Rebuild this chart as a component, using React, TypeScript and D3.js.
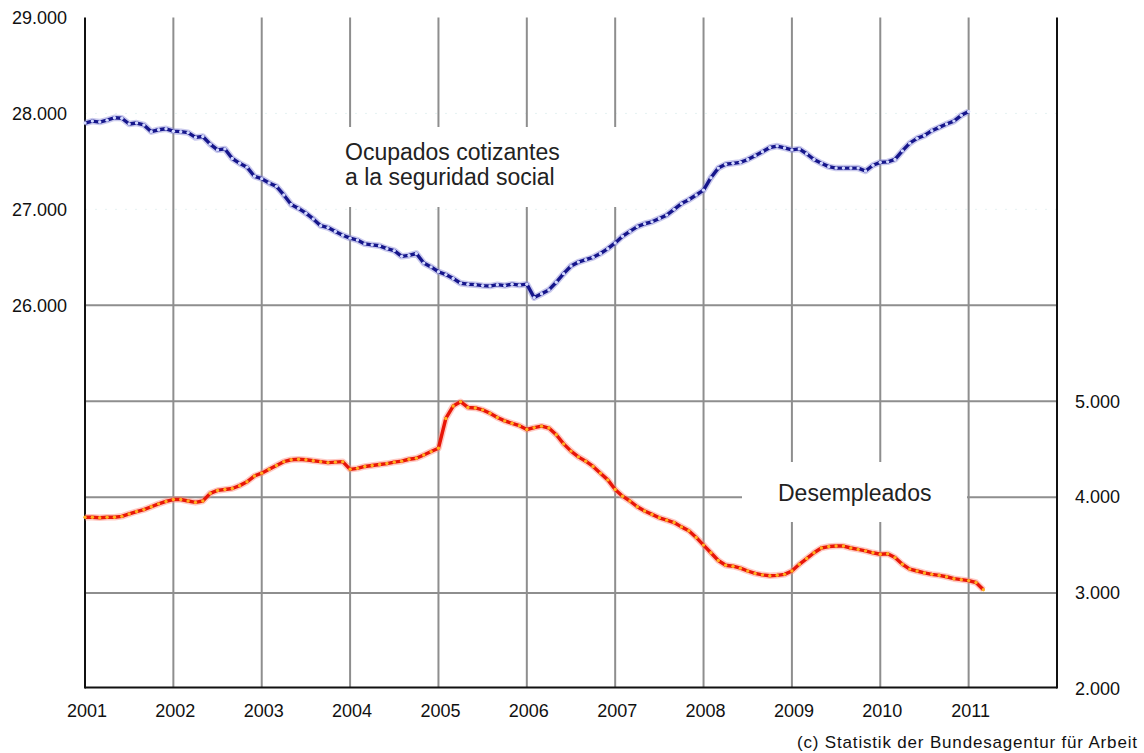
import React from "react";
import * as d3 from "d3";

// Monthly values, Jan 2001 ... (thousands)
const START_YEAR = 2001;
const ocupados: number[] = [
  27900, 27920, 27910, 27930, 27955, 27950, 27890, 27900, 27880, 27810, 27830, 27840,
  27815, 27810, 27800, 27750, 27760, 27680, 27620, 27630, 27530, 27480, 27440, 27345,
  27320, 27275, 27240, 27150, 27050, 27010, 26960, 26900, 26830, 26810, 26770, 26730,
  26700, 26680, 26640, 26630, 26620, 26590, 26570, 26510, 26520, 26540, 26440, 26400,
  26350, 26320, 26280, 26230, 26220, 26215, 26205, 26200, 26215, 26205, 26220, 26210,
  26220, 26080, 26120, 26160, 26240, 26330, 26410, 26450, 26475, 26500, 26540, 26590,
  26650, 26720, 26770, 26820, 26850, 26870, 26905, 26940, 27000, 27060, 27100, 27150,
  27200, 27330, 27430, 27470, 27480, 27490, 27520, 27560, 27600, 27645, 27660, 27640,
  27620, 27630, 27580, 27520, 27480, 27445, 27430, 27430, 27430, 27430, 27400, 27460,
  27490, 27495, 27520, 27610, 27690, 27740, 27770, 27820, 27855, 27890, 27920, 27980,
  28020,
];
const desempleados: number[] = [
  3790, 3790, 3785, 3790, 3790, 3800, 3825, 3850, 3870, 3900, 3930, 3955,
  3975, 3975, 3960, 3945, 3960, 4040, 4070, 4080, 4090, 4120, 4160, 4220,
  4250, 4290, 4330, 4370, 4390, 4395, 4390, 4380, 4370, 4360, 4365, 4370,
  4290, 4300, 4320, 4330, 4340, 4350, 4365, 4375, 4395, 4405, 4440, 4475,
  4510, 4820, 4950, 4995, 4935, 4930, 4910, 4875, 4830, 4795, 4770, 4745,
  4705, 4725, 4740, 4720, 4650, 4555, 4480, 4420, 4375, 4320, 4250, 4180,
  4080, 4010, 3960, 3900, 3855, 3820, 3785, 3760, 3735, 3690, 3650, 3580,
  3500, 3420, 3340, 3290, 3280, 3260, 3230, 3205, 3190, 3180, 3185, 3195,
  3230, 3300, 3360, 3420, 3470, 3485, 3490, 3490, 3470, 3455, 3440, 3420,
  3405, 3410, 3370, 3300, 3250, 3230, 3210, 3195, 3185, 3170, 3150, 3140,
  3130, 3110, 3035,
];
const yearTicks: number[] = [2001, 2002, 2003, 2004, 2005, 2006, 2007, 2008, 2009, 2010, 2011];
const leftTicks: number[] = [26000, 27000, 28000, 29000];
const rightTicks: number[] = [2000, 3000, 4000, 5000];
const leftGridSolid: number[] = [26000];
const leftGridFaint: number[] = [27000, 28000];
const rightGrid: number[] = [3000, 4000, 5000];
const labelOcupados: string[] = ["Ocupados cotizantes", "a la seguridad social"];
const labelDesempleados = "Desempleados";
const credit = "(c) Statistik der Bundesagentur für Arbeit";

const W = 1144;
const H = 753;
const PL = 85;
const PR = 1057;
const PT = 17.5;
const PB = 687.5;

const fmt = (v: number) => d3.format(",")(v).replace(/,/g, ".");

export default function App() {
  const x = d3.scaleLinear().domain([2001, 2012]).range([PL, PR]);
  const yL = d3.scaleLinear().domain([22000, 29000]).range([689, PT]);
  const yR = d3.scaleLinear().domain([2000, 9000]).range([689, PT]);

  const blue = ocupados.map((v, i) => ({ t: START_YEAR + i / 12, v }));
  const red = desempleados.map((v, i) => ({ t: START_YEAR + i / 12, v }));

  const blueLine = d3.line<{ t: number; v: number }>().x((d) => x(d.t)).y((d) => yL(d.v));
  const redLine = d3.line<{ t: number; v: number }>().x((d) => x(d.t)).y((d) => yR(d.v));

  const font = "'Liberation Sans', Arial, sans-serif";

  return (
    <svg
      width={W}
      height={H}
      style={{ position: "absolute", left: 0, top: 0, background: "#fff" }}
      fontFamily={font}
    >
      <rect x={0} y={0} width={W} height={H} fill="#fff" />
      {/* faint dotted grid */}
      {leftGridFaint.map((v) => (
        <line key={"f" + v} x1={PL} x2={PR} y1={yL(v)} y2={yL(v)} stroke="#e6f3f3" strokeWidth={1} strokeDasharray="2,8" />
      ))}
      {/* vertical grid */}
      {yearTicks.slice(1).map((t) => (
        <line key={"v" + t} x1={x(t)} x2={x(t)} y1={PT} y2={PB} stroke="#8e8e8e" strokeWidth={2} />
      ))}
      {leftGridSolid.map((v) => (
        <line key={"s" + v} x1={PL} x2={PR} y1={yL(v)} y2={yL(v)} stroke="#8e8e8e" strokeWidth={2} />
      ))}
      {rightGrid.map((v) => (
        <line key={"r" + v} x1={PL} x2={PR} y1={yR(v)} y2={yR(v)} stroke="#8e8e8e" strokeWidth={2} />
      ))}
      {/* label background boxes */}
      <rect x={320} y={127} width={310} height={80} fill="#fff" />
      <rect x={742} y={462} width={225} height={60} fill="#fff" />
      {/* axes frame */}
      <line x1={PL} x2={PL} y1={PT} y2={PB + 1} stroke="#111" strokeWidth={2} />
      <line x1={PR} x2={PR} y1={PT} y2={PB + 1} stroke="#111" strokeWidth={2} />
      <line x1={PL} x2={PR} y1={PB} y2={PB} stroke="#111" strokeWidth={2} />

      {/* series */}
      <path d={blueLine(blue) || ""} fill="none" stroke="#8a8ad8" strokeOpacity={0.45} strokeWidth={6.5} strokeLinejoin="round" />
      <path d={blueLine(blue) || ""} fill="none" stroke="#16168c" strokeWidth={3.4} strokeLinejoin="round" />
      {blue.map((d, i) => (
        <circle key={"b" + i} cx={x(d.t)} cy={yL(d.v)} r={1.7} fill="#d4daff" />
      ))}
      <path d={redLine(red) || ""} fill="none" stroke="#ff8a7a" strokeOpacity={0.45} strokeWidth={6.5} strokeLinejoin="round" />
      <path d={redLine(red) || ""} fill="none" stroke="#e81608" strokeWidth={3.4} strokeLinejoin="round" />
      {red.map((d, i) => (
        <circle key={"rd" + i} cx={x(d.t)} cy={yR(d.v)} r={1.7} fill="#ffb020" />
      ))}

      {/* labels */}
      <text x={345} y={160} fontSize={23} fill="#222">{labelOcupados[0]}</text>
      <text x={345} y={185} fontSize={23} fill="#222">{labelOcupados[1]}</text>
      <text x={778} y={501} fontSize={23} fill="#222">{labelDesempleados}</text>

      {/* ticks */}
      {leftTicks.map((v) => (
        <text key={"lt" + v} x={67} y={yL(v)} dy="0.35em" textAnchor="end" fontSize={18} fill="#111">
          {fmt(v)}
        </text>
      ))}
      {rightTicks.map((v) => (
        <text key={"rt" + v} x={1075} y={yR(v)} dy="0.35em" textAnchor="start" fontSize={18} fill="#111">
          {fmt(v)}
        </text>
      ))}
      {yearTicks.map((t) => (
        <text key={"xt" + t} x={x(t) + 2} y={717} textAnchor="middle" fontSize={18} fill="#111">
          {t}
        </text>
      ))}
      <text x={1137} y={748} textAnchor="end" fontSize={17} fill="#111" textLength={340} lengthAdjust="spacing">
        {credit}
      </text>
    </svg>
  );
}
